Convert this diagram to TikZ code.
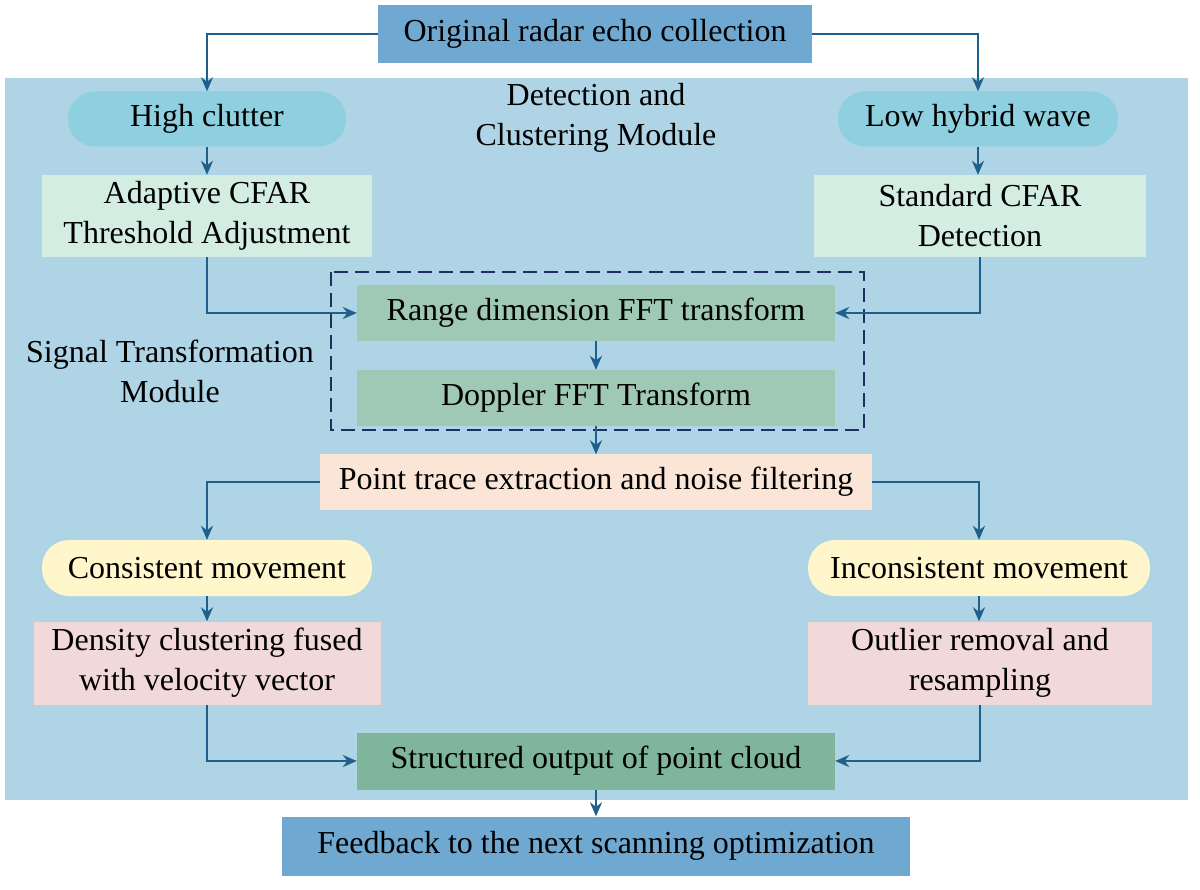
\documentclass[tikz,border=0pt]{standalone}
\usepackage{fontspec}
\setmainfont{Liberation Serif}
\usetikzlibrary{arrows.meta}
\definecolor{topb}{HTML}{6FA8D0}
\definecolor{bg}{HTML}{AED4E6}
\definecolor{pill}{HTML}{8ECFE0}
\definecolor{mint}{HTML}{D4EDE2}
\definecolor{fft}{HTML}{9FC9B5}
\definecolor{peach}{HTML}{FBE5D6}
\definecolor{yel}{HTML}{FFF6CC}
\definecolor{pink}{HTML}{F2D9D9}
\definecolor{dg}{HTML}{7FB59A}
\definecolor{arr}{HTML}{1F5F8B}
\definecolor{navy}{HTML}{1F2F5F}
\begin{document}
\begin{tikzpicture}[x=1pt,y=-1pt,
  every node/.style={font=\fontsize{32}{40}\selectfont,align=center,inner sep=0pt},
  a/.style={draw=arr,line width=2pt,-{Stealth[length=14pt,width=12pt]}}]
\useasboundingbox (0,0) rectangle (1200,890);
\fill[bg] (5,78) rectangle (1188,800);
\node[fill=topb,minimum width=434,minimum height=58] (top) at (595,34) {Original radar echo collection};
\node[fill=pill,rounded corners=27pt,minimum width=278,minimum height=55] (hc) at (207,119) {High clutter};
\node[fill=pill,rounded corners=27pt,minimum width=280,minimum height=55] (lh) at (978,119) {Low hybrid wave};
\node (dm) at (596,118) {Detection and\\Clustering Module};
\node[fill=mint,minimum width=330,minimum height=82] (ad) at (207,216) {Adaptive CFAR\\Threshold Adjustment};
\node[fill=mint,minimum width=332,minimum height=82] (sc) at (980,216) {Standard CFAR\\Detection};
\draw[navy,line width=2pt,dash pattern=on 14pt off 7pt] (331,272) rectangle (864,430);
\node[fill=fft,minimum width=478,minimum height=56] (rf) at (596,313) {Range dimension FFT transform};
\node[fill=fft,minimum width=478,minimum height=56] (df) at (596,398) {Doppler FFT Transform};
\node (stm) at (170,371) {Signal Transformation\\Module};
\node[fill=peach,minimum width=552,minimum height=55] (pt) at (596,482) {Point trace extraction and noise filtering};
\node[fill=yel,rounded corners=27pt,minimum width=330,minimum height=56] (cm) at (207,568) {Consistent movement};
\node[fill=yel,rounded corners=27pt,minimum width=342,minimum height=56] (im) at (979,568) {Inconsistent movement};
\node[fill=pink,minimum width=347,minimum height=83] (dc) at (207,663) {Density clustering fused\\with velocity vector};
\node[fill=pink,minimum width=344,minimum height=83] (ol) at (980,663) {Outlier removal and\\resampling};
\node[fill=dg,minimum width=478,minimum height=57] (so) at (596,761) {Structured output of point cloud};
\node[fill=topb,minimum width=628,minimum height=59] (fb) at (596,846) {Feedback to the next scanning optimization};
\draw[a] (top.west) -| (hc.north);
\draw[a] (top.east) -| (lh.north);
\draw[a] (hc) -- (ad);
\draw[a] (lh.south) -- (lh.south|-sc.north);
\draw[a] (ad.south) |- (rf.west);
\draw[a] (sc.south) |- (rf.east);
\draw[a] (rf) -- (df);
\draw[a] (df) -- (pt);
\draw[a] (pt.west) -| (cm.north);
\draw[a] (pt.east) -| (im.north);
\draw[a] (cm) -- (dc);
\draw[a] (im.south) -- (im.south|-ol.north);
\draw[a] (dc.south) |- (so.west);
\draw[a] (ol.south) |- (so.east);
\draw[a] (so) -- (fb);
\end{tikzpicture}
\end{document}
